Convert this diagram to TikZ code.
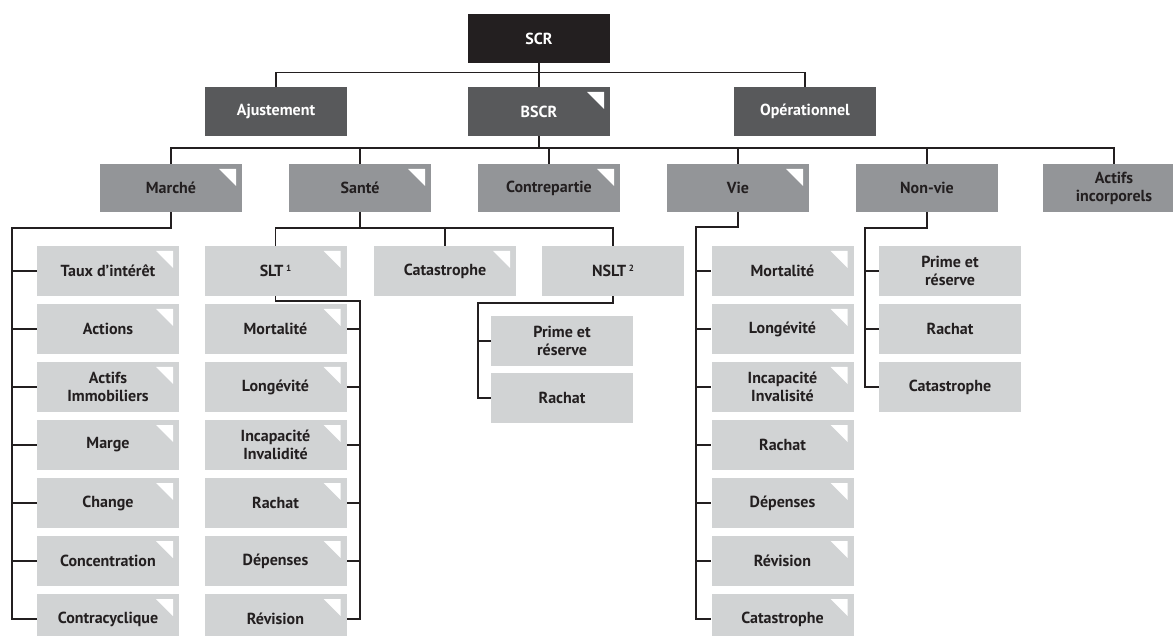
\documentclass[tikz,border=0pt]{standalone}
\usepackage{fontspec}
\setmainfont{PT Sans}
\definecolor{cblack}{HTML}{231F20}
\definecolor{cdark}{HTML}{58595B}
\definecolor{cmid}{HTML}{939598}
\definecolor{clight}{HTML}{D1D3D4}
\begin{document}
\begin{tikzpicture}[x=1pt,y=-1pt,
  box/.style={rectangle, minimum width=142pt, minimum height=49pt, inner sep=0pt, align=center, font=\fontsize{16}{18}\selectfont\bfseries},
  lv0/.style={box, fill=cblack, text=white},
  lv1/.style={box, fill=cdark, text=white},
  lv2/.style={box, fill=cmid, text=cblack, minimum height=48pt},
  lv3/.style={box, fill=clight, text=cblack, minimum height=50pt},
  tri/.style={path picture={\fill[white] ([xshift=-23pt,yshift=-5pt]path picture bounding box.north east) -- ++(17pt,0) -- ++(0,-17pt) -- cycle;}},
  link/.style={draw=cblack, line width=1.4pt},
]
\useasboundingbox (0,0) rectangle (1173,636);
\clip (0,0) rectangle (1173,636);
% level 0 / 1
\node[lv0] (scr) at (539,38.5) {SCR};
\node[lv1] (ajust) at (276,111.5) {Ajustement};
\node[lv1,tri] (bscr) at (539,111.5) {BSCR};
\node[lv1] (oper) at (805,111.5) {Opérationnel};
% level 2
\node[lv2,tri] (marche) at (171,188) {Marché};
\node[lv2,tri] (sante) at (360,188) {Santé};
\node[lv2,tri] (contre) at (549,188) {Contrepartie};
\node[lv2,tri] (vie) at (738,188) {Vie};
\node[lv2] (nonvie) at (927,188) {Non-vie};
\node[lv2] (actifs) at (1114,188) {Actifs\\incorporels};
% Marché children
\node[lv3,tri] (taux) at (108,271) {Taux d’intérêt};
\node[lv3,tri] (actions) at (108,329) {Actions};
\node[lv3,tri] (immo) at (108,387) {Actifs\\Immobiliers};
\node[lv3,tri] (marge) at (108,445) {Marge};
\node[lv3,tri] (change) at (108,503) {Change};
\node[lv3,tri] (concen) at (108,561) {Concentration};
\node[lv3,tri] (contra) at (108,619) {Contracyclique};
% Santé children
\node[lv3,tri] (slt) at (275.5,271) {SLT\,\raisebox{5pt}{\fontsize{9}{9}\selectfont 1}};
\node[lv3,tri] (cat) at (445,271) {Catastrophe};
\node[lv3] (nslt) at (613,271) {NSLT\,\raisebox{5pt}{\fontsize{9}{9}\selectfont 2}};
% SLT children
\node[lv3,tri] (smort) at (275.5,329) {Mortalité};
\node[lv3,tri] (slong) at (275.5,387) {Longévité};
\node[lv3,tri] (sinc) at (275.5,445) {Incapacité\\Invalidité};
\node[lv3,tri] (srach) at (275.5,503) {Rachat};
\node[lv3,tri] (sdep) at (275.5,561) {Dépenses};
\node[lv3,tri] (srev) at (275.5,619) {Révision};
% NSLT children
\node[lv3] (nprime) at (562,341) {Prime et\\réserve};
\node[lv3] (nrach) at (562,398) {Rachat};
% Vie children
\node[lv3,tri] (vmort) at (782.5,271) {Mortalité};
\node[lv3,tri] (vlong) at (782.5,329) {Longévité};
\node[lv3,tri] (vinc) at (782.5,387) {Incapacité\\Invalisité};
\node[lv3,tri] (vrach) at (782.5,445) {Rachat};
\node[lv3,tri] (vdep) at (782.5,503) {Dépenses};
\node[lv3,tri] (vrev) at (782.5,561) {Révision};
\node[lv3,tri] (vcat) at (782.5,619) {Catastrophe};
% Non-vie children
\node[lv3] (pprime) at (950,271) {Prime et\\réserve};
\node[lv3] (prach) at (950,329) {Rachat};
\node[lv3] (pcat) at (950,387) {Catastrophe};
% bus coordinates
\coordinate (b2) at (0,148);
\coordinate (mb) at (12,228);
\coordinate (sb) at (0,228);
\coordinate (tb) at (360,301);
\coordinate (nb) at (478,303);
\coordinate (vb) at (696,227);
\coordinate (pb) at (865,228);
% connectors level 0-1
\draw[link] (scr.south) -- (bscr.north);
\draw[link] (ajust.north) -- ++(0,-14) -| (oper.north);
% level 1-2
\draw[link] (marche.north) -- (marche.north |- b2) -| (actifs.north);
\draw[link] (bscr.south) -- (bscr.south |- b2);
\foreach \n in {sante,contre,vie,nonvie} \draw[link] (\n.north) -- (\n.north |- b2);
% Marché
\draw[link] (marche.south) |- (mb) -- (mb |- contra.west) -- (contra.west);
\foreach \n in {taux,actions,immo,marge,change,concen} \draw[link] (mb |- \n.west) -- (\n.west);
% Santé
\draw[link] (sante.south) -- (sante.south |- sb);
\draw[link] (slt.north) -- (slt.north |- sb) -| (nslt.north);
\draw[link] (cat.north) -- (cat.north |- sb);
% SLT
\draw[link] (slt.south) |- (tb) -- (tb |- srev.east) -- (srev.east);
\foreach \n in {smort,slong,sinc,srach,sdep} \draw[link] (tb |- \n.east) -- (\n.east);
% NSLT
\draw[link] (nslt.south) |- (nb) -- (nb |- nrach.west) -- (nrach.west);
\draw[link] (nb |- nprime.west) -- (nprime.west);
% Vie
\draw[link] (vie.south) |- (vb) -- (vb |- vcat.west) -- (vcat.west);
\foreach \n in {vmort,vlong,vinc,vrach,vdep,vrev} \draw[link] (vb |- \n.west) -- (\n.west);
% Non-vie
\draw[link] (nonvie.south) |- (pb) -- (pb |- pcat.west) -- (pcat.west);
\foreach \n in {pprime,prach} \draw[link] (pb |- \n.west) -- (\n.west);
\end{tikzpicture}
\end{document}
